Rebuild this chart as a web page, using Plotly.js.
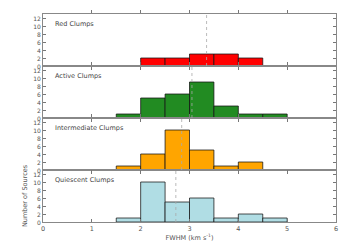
<!DOCTYPE html>
<html>
<head>
<meta charset="utf-8">
<script src="https://cdn.plot.ly/plotly-3.0.1.min.js"></script>
<style>html,body{margin:0;padding:0;background:#fff;}#chart{width:350px;height:250px;}</style>
</head>
<body>
<div id="chart"></div>
<script>
// Bin centres (FWHM, km/s), bin width 0.5
const binCenters = [1.75, 2.25, 2.75, 3.25, 3.75, 4.25, 4.75];
const panelNames = ["Red Clumps", "Active Clumps", "Intermediate Clumps", "Quiescent Clumps"];
const redCounts = [0, 2, 2, 3, 3, 2, 0];
const activeCounts = [1, 5, 6, 9, 3, 1, 1];
const intermediateCounts = [1, 4, 10, 5, 1, 2, 0];
const quiescentCounts = [1, 10, 5, 6, 1, 2, 1];
const medians = [3.35, 3.05, 2.84, 2.72];
const xTicks = [0, 1, 2, 3, 4, 5, 6];
const yTicks = [0, 2, 4, 6, 8, 10, 12];

const seriesCounts = [redCounts, activeCounts, intermediateCounts, quiescentCounts];
const colors = ["#ff0000", "#228b22", "#ffa500", "#b0dde4"];
const yNames = ["y", "y2", "y3", "y4"];

const traces = seriesCounts.map((c, i) => ({
  type: "bar",
  x: binCenters.filter((_, k) => c[k] > 0),
  y: c.filter(v => v > 0),
  width: 0.5,
  xaxis: "x",
  yaxis: yNames[i],
  marker: {color: colors[i], line: {color: "rgba(20,20,20,0.75)", width: 1}},
  hoverinfo: "skip",
  showlegend: false
}));

const axisCommon = {
  range: [0, 13],
  tickvals: yTicks,
  ticktext: yTicks.map(String),
  ticks: "inside",
  ticklen: 3,
  tickcolor: "#777",
  showline: true,
  linecolor: "#888",
  linewidth: 1,
  mirror: "ticks",
  showgrid: false,
  zeroline: false,
  ticklabelshift: 1,
  tickfont: {family: "DejaVu Sans", size: 6, color: "#555"},
  anchor: "x",
  fixedrange: true
};

const layout = {
  width: 350, height: 250,
  margin: {l: 43, r: 14, t: 14, b: 28},
  paper_bgcolor: "#fff", plot_bgcolor: "#fff",
  bargap: 0,
  xaxis: {
    range: [0, 6],
    tickvals: xTicks,
    ticktext: xTicks.map(String),
    ticks: "inside", ticklen: 3, tickcolor: "#777",
    showline: true, linecolor: "#888", linewidth: 1,
    mirror: "allticks",
    showgrid: false, zeroline: false,
    anchor: "y4",
    tickfont: {family: "DejaVu Sans", size: 6.5, color: "#555"},
    title: {text: "FWHM (km s<sup>-1</sup>)", font: {family: "DejaVu Sans", size: 6.5, color: "#555"}, standoff: 1}
  },
  yaxis: Object.assign({}, axisCommon, {domain: [0.75, 1]}),
  yaxis2: Object.assign({}, axisCommon, {domain: [0.5, 0.75]}),
  yaxis3: Object.assign({}, axisCommon, {domain: [0.25, 0.5]}),
  yaxis4: Object.assign({}, axisCommon, {domain: [0, 0.25],
    title: {text: "Number of Sources", font: {family: "DejaVu Sans", size: 6.5, color: "#555"}, standoff: 4}}),
  shapes: medians.map((m, i) => ({
    type: "line", xref: "x", yref: yNames[i] + " domain",
    x0: m, x1: m, y0: 0, y1: 1,
    line: {color: "#aaa", width: 0.8, dash: "dot"}
  })),
  annotations: panelNames.map((n, i) => ({
    text: n, xref: "x", yref: yNames[i] + " domain",
    x: 0.2, y: 0.81, xanchor: "left", yanchor: "middle",
    showarrow: false,
    font: {family: "DejaVu Sans", size: 6.5, color: "#444"}
  }))
};

Plotly.newPlot("chart", traces, layout, {staticPlot: true, displayModeBar: false});
</script>
</body>
</html>
